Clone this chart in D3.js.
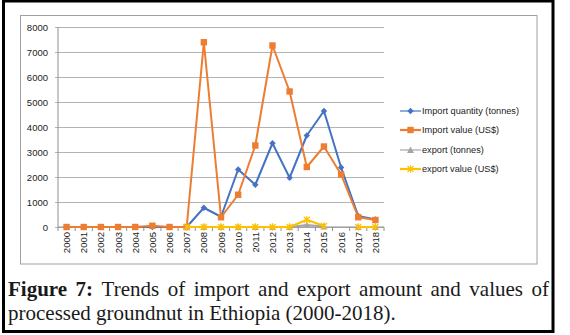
<!DOCTYPE html>
<html lang="en">
<head>
<meta charset="utf-8">
<title>Groundnut import/export trends</title>
<script src="https://cdn.jsdelivr.net/npm/d3@7"></script>
<style>
  body { margin: 0; background: #fff; }
  svg { display: block; }
</style>
</head>
<body>
<script>
// data
const years = ["2000","2001","2002","2003","2004","2005","2006","2007","2008","2009",
               "2010","2011","2012","2013","2014","2015","2016","2017","2018"];
const importQty   = [0,0,0,0,0,0,0,0,770,410,2300,1690,3350,1970,3660,4640,2380,440,300];
const importValue = [0,0,0,0,0,50,0,0,7390,390,1290,3260,7260,5420,2400,3220,2100,390,280];
const exportQty   = [null,null,null,null,null,null,null,0,0,0,0,0,0,0,80,20,null,0,0];
const exportValue = [null,null,null,null,null,null,null,0,0,0,0,0,0,0,290,40,null,0,0];
const yTicks = [0,1000,2000,3000,4000,5000,6000,7000,8000];
const seriesNames = ["Import quantity (tonnes)", "Import value (US$)", "export (tonnes)", "export value (US$)"];
const seriesColors = ["#4472C4", "#ED7D31", "#A5A5A5", "#FFC000"];
const seriesMarkers = ["diamond", "square", "triangle", "star"];
const captionLine1 = "Trends of import and export amount and values of";
const captionLine2 = "processed groundnut in Ethiopia (2000-2018).";

const W = 570, H = 335;
const svg = d3.select("body").append("svg").attr("width", W).attr("height", H);

// outer frame + chart box
svg.append("rect").attr("x", 3.5).attr("y", 1).attr("width", 549.5).attr("height", 330.5)
  .attr("fill", "none").attr("stroke", "#000").attr("stroke-width", 3);
svg.append("rect").attr("x", 20.5).attr("y", 15.5).attr("width", 516.5).attr("height", 248.5)
  .attr("fill", "#fff").attr("stroke", "#a0a0a0").attr("stroke-width", 1);

const x = d3.scaleBand().domain(years).range([58, 384]);
const y = d3.scaleLinear().domain([0, 8000]).range([227, 27]);
const cx = d => x(d) + x.bandwidth() / 2;

// gridlines + y labels
const yAxis = svg.append("g").attr("transform", "translate(58,0)")
  .call(d3.axisLeft(y).tickValues(yTicks).tickFormat(d3.format("d"))
    .tickSize(-(384 - 58)).tickSizeOuter(0).tickPadding(10));
yAxis.select(".domain").remove();
yAxis.selectAll(".tick line").attr("stroke", "#b3b3b3").attr("x1", -3);
yAxis.selectAll(".tick text").attr("font-family", "'Liberation Sans', Arial, sans-serif")
  .attr("font-size", "9.5px").attr("fill", "#222");
svg.append("line").attr("x1", 58).attr("x2", 58).attr("y1", y(8000)).attr("y2", y(0))
  .attr("stroke", "#909090");

// x axis
svg.append("line").attr("x1", 58).attr("x2", 384).attr("y1", y(0)).attr("y2", y(0))
  .attr("stroke", "#909090");
svg.append("g").selectAll("line").data(years.concat(["end"])).join("line")
  .attr("x1", d => d === "end" ? 384 : x(d)).attr("x2", d => d === "end" ? 384 : x(d))
  .attr("y1", y(0)).attr("y2", y(0) + 4).attr("stroke", "#909090");
svg.append("g").selectAll("text").data(years).join("text")
  .attr("transform", d => `translate(${cx(d) + 3.5},${y(0) + 5}) rotate(-90)`)
  .attr("text-anchor", "end")
  .attr("font-family", "'Liberation Sans', Arial, sans-serif")
  .attr("font-size", "9.5px").attr("fill", "#222")
  .text(d => d);

// markers
function drawMarker(g, type, color) {
  if (type === "diamond") {
    g.append("path").attr("d", "M0,-3.2L3.2,0L0,3.2L-3.2,0Z").attr("fill", color);
  } else if (type === "square") {
    g.append("rect").attr("x", -3.2).attr("y", -3.2).attr("width", 6.4).attr("height", 6.4).attr("fill", color);
  } else if (type === "triangle") {
    g.append("path").attr("d", "M0,-3.5L3.5,3L-3.5,3Z").attr("fill", color);
  } else {
    g.append("path").attr("d", "M-3,-3L3,3M-3,3L3,-3M0,-3.8L0,3.8")
      .attr("stroke", color).attr("stroke-width", 1.2).attr("fill", "none");
  }
}

const allSeries = [importQty, importValue, exportQty, exportValue];
const line = d3.line()
  .defined(d => d.v !== null)
  .x(d => cx(d.year)).y(d => y(d.v));

allSeries.forEach((vals, i) => {
  const pts = years.map((yr, j) => ({ year: yr, v: vals[j] }));
  svg.append("path").datum(pts)
    .attr("d", line).attr("fill", "none")
    .attr("stroke", seriesColors[i]).attr("stroke-width", 2).attr("stroke-linejoin", "round");
  pts.filter(p => p.v !== null).forEach(p => {
    const g = svg.append("g").attr("transform", `translate(${cx(p.year)},${y(p.v)})`);
    drawMarker(g, seriesMarkers[i], seriesColors[i]);
  });
});

// legend
const legendY = [111, 130, 150, 169];
seriesNames.forEach((name, i) => {
  const g = svg.append("g").attr("transform", `translate(400,${legendY[i]})`);
  g.append("line").attr("x1", 0).attr("x2", 21).attr("stroke", seriesColors[i])
    .attr("stroke-width", i === 0 || i === 2 ? 1.2 : 2.2);
  const m = g.append("g").attr("transform", "translate(10.5,0)");
  drawMarker(m, seriesMarkers[i], seriesColors[i]);
  g.append("text").attr("x", 22).attr("y", 3.3)
    .attr("font-family", "'Liberation Sans', Arial, sans-serif")
    .attr("font-size", "9.2px").attr("fill", "#222").text(name);
});

// caption (justified first line)
const capFont = "'Liberation Serif', 'Times New Roman', serif";
const probe = svg.append("text").attr("font-family", capFont).attr("font-size", "20px").text(captionLine2);
const fs = 20 * 388 / probe.node().getComputedTextLength();
probe.remove();

const words = [{ t: "Figure", b: true }, { t: "7:", b: true }]
  .concat(captionLine1.split(" ").map(t => ({ t, b: false })));
const capG = svg.append("g");
const wordNodes = words.map(w => capG.append("text")
  .attr("font-family", capFont).attr("font-size", fs + "px")
  .attr("font-weight", w.b ? "bold" : "normal").attr("fill", "#1a1a1a")
  .attr("y", 296).text(w.t));
const widths = wordNodes.map(n => n.node().getComputedTextLength());
const total = d3.sum(widths);
const gap = (549 - 8 - total) / (words.length - 1);
let cur = 8;
wordNodes.forEach((n, i) => { n.attr("x", cur); cur += widths[i] + gap; });

svg.append("text").attr("x", 8).attr("y", 320)
  .attr("font-family", capFont).attr("font-size", fs + "px").attr("fill", "#1a1a1a")
  .text(captionLine2);
</script>
</body>
</html>
